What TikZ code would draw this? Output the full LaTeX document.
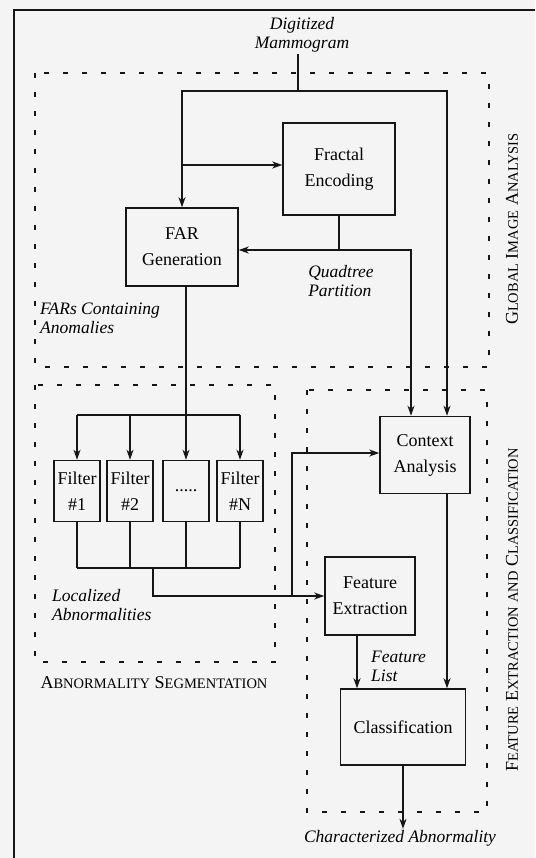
\documentclass[tikz,border=0pt]{standalone}
\usepackage{fontspec}
\setmainfont{Liberation Serif}
\usepackage{xcolor}
\definecolor{scanBg}{RGB}{244,244,244}
\definecolor{scanInk}{RGB}{22,22,22}
\usetikzlibrary{positioning,arrows.meta,calc}
\newcommand{\fakesc}[2]{#1{\fontsize{14.5}{16}\selectfont #2}}

\begin{document}
\begin{tikzpicture}[
  x=1pt,y=-1pt,
  block/.style={draw=scanInk,line width=1.5pt,align=center,inner sep=2pt,
    font=\fontsize{18}{26}\selectfont},
  filt/.style={block,minimum width=46pt,minimum height=61pt,inner sep=0pt},
  tag/.style={font=\fontsize{17.5}{19}\selectfont\itshape,align=left,inner sep=1pt},
  wire/.style={scanInk,line width=1.5pt},
  arr/.style={wire,-{Stealth[length=10pt,width=7pt,inset=3pt]}},
  region/.style={scanInk,line width=1.3pt,dash pattern=on 5pt off 14pt},
  bigsc/.style={font=\fontsize{18}{20}\selectfont,inner sep=0pt}]

  \fill[scanBg] (0,0) rectangle (535,858);
  \useasboundingbox (0,0) rectangle (535,858);

  % outer frame (cut at the page edge)
  \draw[wire] (535,10) -- (14,10) -- (14,858);

  % the three stages
  \draw[region] (35,73) rectangle (489,367);
  \draw[region] (35,385) rectangle (275,662);
  \draw[region] (307,390) rectangle (487,812);

  % blocks
  \node[block,minimum width=112pt,minimum height=92pt] (fractal) at (339,169) {Fractal\\Encoding};
  \node[block,minimum width=112pt,minimum height=78pt] (far) at (182,247) {FAR\\Generation};
  \node[filt] (filt1) at (77,491) {Filter\\\#1};
  \node[filt] (filt2) at (130,491) {Filter\\\#2};
  \node[filt] (fdots) at (186,491) {.....};
  \node[filt] (filtN) at (240,491) {Filter\\\#N};
  \node[block,minimum width=90pt,minimum height=77pt] (context) at (425,455) {Context\\Analysis};
  \node[block,minimum width=90pt,minimum height=78pt] (featx) at (370,596) {Feature\\Extraction};
  \node[block,minimum width=125pt,minimum height=76pt] (classif) at (403,727) {Classification};

  % labels
  \node[tag,align=center] (mammo) at (302,35) {Digitized\\Mammogram};
  \node[tag] (quad) at (341,281) {Quadtree\\Partition};
  \node[tag,anchor=west] (fars) at (39,318) {FARs Containing\\Anomalies};
  \node[tag,anchor=west] (local) at (51,605) {Localized\\Abnormalities};
  \node[tag,anchor=west] (flist) at (370,666) {Feature\\List};
  \node[tag] (charab) at (400,838) {Characterized Abnormality};
  \node[bigsc] (abnseg) at (154,683) {\fakesc{A}{BNORMALITY} \fakesc{S}{EGMENTATION}};
  \node[bigsc,rotate=90] (gia) at (512,229) {\fakesc{G}{LOBAL} \fakesc{I}{MAGE} \fakesc{A}{NALYSIS}};
  \node[bigsc,rotate=90] (fec) at (512,610) {\fakesc{F}{EATURE} \fakesc{E}{XTRACTION} \fakesc{}{AND} \fakesc{C}{LASSIFICATION}};

  % junctions
  \coordinate (jtop) at (298,91);
  \coordinate (fbar) at (186,415);
  \coordinate (obar) at (153,568);
  \coordinate (jb) at (292,595);

  % global analysis
  \draw[wire] (mammo.south -| jtop) -- (jtop);
  \draw[arr] (jtop) -| (far.north);
  \draw[arr] (jtop) -| ([xshift=22pt]context.north);
  \draw[arr] ([yshift=4pt]far.north |- fractal.west) -- ([yshift=4pt]fractal.west);
  \draw[arr] (fractal.south) |- ([yshift=-3pt]far.east);
  \draw[arr] ([yshift=-3pt]fractal.south |- far.east) -| ([xshift=-14pt]context.north);

  % segmentation
  \draw[arr] (fdots.north |- far.south) -- (fdots.north);
  \draw[wire] (filt1.north |- fbar) -- (filtN.north |- fbar);
  \foreach \f in {filt1,filt2,filtN}
    \draw[arr] (\f.north |- fbar) -- (\f.north);
  \foreach \f in {filt1,filt2,fdots,filtN}
    \draw[wire] (\f.south) -- (\f.south |- obar);
  \draw[wire] (filt1.south |- obar) -- (filtN.south |- obar);

  % extraction and classification
  \draw[arr] (obar) |- (featx.west);
  \draw[arr] (jb) |- ([yshift=2pt]context.west);
  \draw[arr] ([xshift=22pt]context.south) -- ([xshift=22pt]context.south |- classif.north);
  \draw[arr] ([xshift=-13pt]featx.south) -- ([xshift=-13pt]featx.south |- classif.north);
  \draw[arr] (classif.south) -- (classif.south |- charab.north);
\end{tikzpicture}
\end{document}
